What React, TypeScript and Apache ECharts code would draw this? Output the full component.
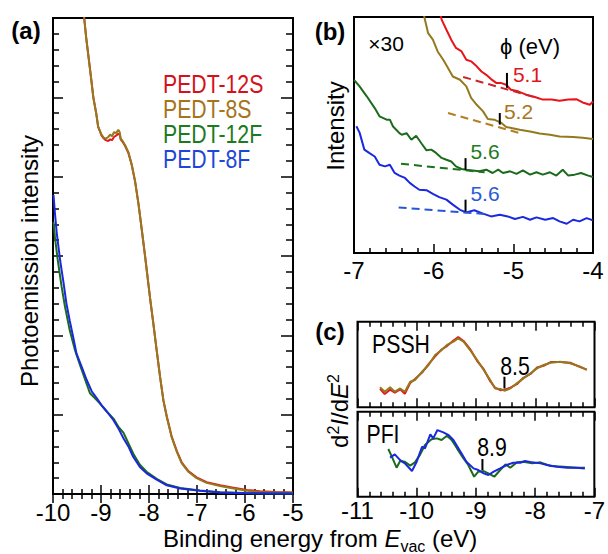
import React, { useEffect, useRef } from 'react';
import * as echarts from 'echarts';

const FONT = '"Liberation Sans", Arial, Helvetica, sans-serif';

// ---------- Panel (a): photoemission spectra ----------
const aE12S = [-9.39, -9.35, -9.31, -9.26, -9.21, -9.16, -9.10, -9.06, -8.99, -8.94, -8.90, -8.85, -8.81, -8.77, -8.73, -8.68, -8.64, -8.61, -8.59, -8.55, -8.50, -8.43, -8.36, -8.29, -8.22, -8.15, -8.08, -7.98, -7.91, -7.84, -7.77, -7.70, -7.63, -7.53, -7.42, -7.32, -7.18, -7.01, -6.80, -6.52, -6.24, -5.96, -5.69, -5.35, -5.0];
const aV12S = [6.3, 6.0, 5.76, 5.51, 5.26, 5.0, 4.80, 4.63, 4.52, 4.48, 4.46, 4.45, 4.47, 4.46, 4.50, 4.52, 4.54, 4.53, 4.47, 4.44, 4.39, 4.30, 4.15, 3.94, 3.66, 3.33, 2.99, 2.48, 2.15, 1.81, 1.48, 1.18, 0.98, 0.73, 0.54, 0.40, 0.29, 0.21, 0.15, 0.11, 0.08, 0.05, 0.035, 0.025, 0.02];
const aE8S = [-9.39, -9.35, -9.31, -9.26, -9.21, -9.16, -9.10, -9.06, -8.99, -8.94, -8.90, -8.85, -8.81, -8.77, -8.73, -8.68, -8.64, -8.61, -8.59, -8.55, -8.50, -8.43, -8.36, -8.29, -8.22, -8.15, -8.08, -7.98, -7.91, -7.84, -7.77, -7.70, -7.63, -7.53, -7.42, -7.32, -7.18, -7.01, -6.80, -6.52, -6.24, -5.96, -5.69, -5.35, -5.0];
const aV8S = [6.3, 6.0, 5.76, 5.51, 5.26, 5.0, 4.80, 4.63, 4.53, 4.49, 4.48, 4.50, 4.53, 4.51, 4.56, 4.55, 4.59, 4.56, 4.48, 4.45, 4.40, 4.31, 4.15, 3.94, 3.66, 3.33, 2.99, 2.48, 2.15, 1.81, 1.48, 1.18, 0.97, 0.72, 0.53, 0.39, 0.28, 0.20, 0.14, 0.10, 0.07, 0.04, 0.025, 0.02, 0.015];
const aE12F = [-9.99, -9.96, -9.91, -9.87, -9.82, -9.75, -9.65, -9.54, -9.44, -9.33, -9.23, -9.13, -9.02, -8.88, -8.74, -8.64, -8.53, -8.43, -8.33, -8.19, -8.05, -7.84, -7.63, -7.35, -6.94, -6.52, -6.0, -5.5, -5.0];
const aV12F = [3.43, 3.24, 2.99, 2.82, 2.61, 2.36, 2.06, 1.81, 1.63, 1.44, 1.27, 1.21, 1.14, 1.04, 0.95, 0.85, 0.77, 0.64, 0.51, 0.37, 0.28, 0.19, 0.12, 0.075, 0.045, 0.022, 0.012, 0.008, 0.005];
const aE8F = [-9.99, -9.96, -9.92, -9.85, -9.82, -9.78, -9.72, -9.65, -9.58, -9.51, -9.40, -9.30, -9.19, -9.09, -8.99, -8.88, -8.74, -8.64, -8.53, -8.43, -8.33, -8.19, -8.05, -7.84, -7.63, -7.35, -6.94, -6.52, -6.0, -5.5, -5.0];
const aV8F = [3.77, 3.54, 3.28, 2.94, 2.82, 2.66, 2.40, 2.18, 1.98, 1.77, 1.60, 1.44, 1.29, 1.21, 1.12, 1.04, 0.93, 0.83, 0.70, 0.60, 0.47, 0.34, 0.26, 0.18, 0.11, 0.07, 0.04, 0.02, 0.01, 0.007, 0.005];
const legendNames = ['PEDT-12S', 'PEDT-8S', 'PEDT-12F', 'PEDT-8F'];

// ---------- Panel (b): onset region x30 ----------
const bE12S = [-5.92, -5.90, -5.84, -5.78, -5.72, -5.65, -5.59, -5.53, -5.46, -5.40, -5.34, -5.28, -5.21, -5.15, -5.09, -5.03, -4.94, -4.84, -4.73, -4.63, -4.52, -4.42, -4.31, -4.21, -4.13, -4.04, -4.0];
const bV12S = [102, 98.9, 94.6, 90.4, 86.9, 85.4, 81.9, 81.2, 79.1, 76.9, 75.5, 73.7, 72, 72, 71.3, 69.2, 68.5, 67.1, 66.1, 65, 65, 64.5, 65, 65.2, 63.8, 62.8, 64.2];
const bE8S = [-6.13, -6.11, -6.07, -6.01, -5.95, -5.88, -5.82, -5.76, -5.67, -5.59, -5.53, -5.46, -5.38, -5.32, -5.24, -5.15, -5.09, -5.01, -4.92, -4.79, -4.67, -4.54, -4.42, -4.25, -4.13, -4.0];
const bV8S = [102, 98.9, 93.2, 90.4, 85.4, 81.9, 78.4, 74.8, 73.4, 70.6, 65.7, 62.8, 60, 56.8, 56.5, 55.1, 53.4, 52.9, 52.2, 51.5, 50.6, 50.1, 49.4, 49.2, 48.8, 48.3];
const bE12F = [-7.0, -6.93, -6.84, -6.74, -6.68, -6.59, -6.55, -6.51, -6.47, -6.43, -6.40, -6.34, -6.28, -6.22, -6.15, -6.09, -6.03, -5.97, -5.90, -5.84, -5.78, -5.72, -5.65, -5.59, -5.51, -5.43, -5.34, -5.26, -5.19, -5.13, -5.04, -4.96, -4.88, -4.79, -4.71, -4.63, -4.54, -4.46, -4.38, -4.31, -4.23, -4.15, -4.06, -4.0];
const bV12F = [73.4, 70.6, 66.4, 61.4, 57.9, 56.5, 56.5, 53.6, 52.2, 50.8, 50.1, 50.8, 48, 49.7, 46.3, 43.5, 43.8, 42.4, 40.3, 39.5, 38.8, 36.7, 35.6, 35.3, 35, 34.6, 35.3, 33.9, 35.3, 33.9, 34.6, 33.5, 35, 33.2, 34.2, 33.2, 34.2, 32.8, 35.3, 32.8, 33.2, 33.9, 32.8, 32.2];
const bE8F = [-6.97, -6.93, -6.87, -6.81, -6.74, -6.68, -6.61, -6.55, -6.49, -6.43, -6.36, -6.30, -6.24, -6.18, -6.09, -6.01, -5.93, -5.84, -5.76, -5.67, -5.59, -5.49, -5.38, -5.28, -5.17, -5.07, -4.98, -4.88, -4.79, -4.71, -4.60, -4.50, -4.42, -4.33, -4.25, -4.17, -4.08, -4.0];
const bV8F = [53.7, 51, 43.8, 42.4, 40.9, 37.4, 36.7, 37.4, 33.9, 32.8, 31.8, 29.7, 28.2, 26.8, 26.6, 25.1, 23.7, 22.6, 20.5, 18.3, 17.2, 18.1, 16.7, 15.5, 16.2, 15.5, 14.4, 15.3, 14.1, 15.1, 14.1, 14.8, 13.4, 12.4, 14.1, 13.4, 14.8, 13.8];
// extrapolated baselines (start/end) and onset markers
const bFit12S = [[-5.63, 74.6], [-4.68, 65.5]];
const bFit8S = [[-5.82, 59.3], [-4.92, 50.8]];
const bFit12F = [[-6.41, 37.8], [-5.36, 34.2]];
const bFit8F = [[-6.44, 19.3], [-5.35, 16.5]];
const phiE = [-5.08, -5.17, -5.6, -5.6];
const phiLow = [70, 54.4, 35.3, 17.6];
const phiHigh = [76.3, 59.3, 40.2, 22.6];
const phiLabels = ['5.1', '5.2', '5.6', '5.6'];

// ---------- Panel (c): second derivative ----------
const cE_PSSH = [-10.62, -10.54, -10.45, -10.37, -10.28, -10.20, -10.11, -10.03, -9.91, -9.80, -9.69, -9.58, -9.49, -9.38, -9.30, -9.21, -9.10, -8.98, -8.87, -8.76, -8.68, -8.59, -8.51, -8.42, -8.31, -8.20, -8.08, -7.97, -7.86, -7.74, -7.58, -7.41, -7.24, -7.13];
const cV_8S = [23.4, 18.2, 23.4, 18.2, 22, 18.2, 29.9, 31.9, 41.6, 49.4, 61.1, 66.9, 72.8, 76.7, 80.6, 76.7, 66.9, 55.2, 43.5, 31.9, 22.1, 21.4, 19.4, 22.1, 28, 33.8, 39.7, 45.5, 49.4, 52.1, 53.3, 51.4, 47.5, 43.6];
const cV_12S = [21.5, 15.5, 20.5, 17.0, 21.0, 15.8, 28.5, 33.0, 40.5, 50.5, 59.5, 67.5, 71.5, 78.0, 82.0, 77.5, 68.0, 54.0, 44.5, 30.5, 23.0, 20.0, 20.5, 23.0, 27.0, 34.5, 39.0, 46.5, 48.5, 52.8, 53.0, 52.0, 47.0, 44.0];
const cE_12F = [-10.48, -10.42, -10.34, -10.28, -10.20, -10.11, -10.03, -9.94, -9.86, -9.75, -9.66, -9.58, -9.49, -9.41, -9.32, -9.21, -9.13, -9.03, -8.96, -8.87, -8.79, -8.69, -8.59, -8.50, -8.42, -8.31, -8.20, -8.05, -7.91, -7.74, -7.52, -7.30, -7.16];
const cV_12F = [56.1, 47.1, 34.1, 42, 41.2, 36.5, 40.4, 49.8, 60.8, 67.5, 68.6, 66.7, 71.8, 66.7, 56.9, 45.1, 37.3, 23.5, 29.4, 30.2, 27.5, 23.5, 31.4, 38, 34.1, 40.4, 41.2, 39.2, 40.4, 36.1, 35.3, 34.1, 34.1];
const cE_8F = [-10.45, -10.37, -10.28, -10.20, -10.08, -10.00, -9.91, -9.86, -9.77, -9.72, -9.65, -9.55, -9.46, -9.38, -9.26, -9.16, -9.04, -8.96, -8.87, -8.79, -8.70, -8.59, -8.48, -8.37, -8.25, -8.17, -8.05, -7.91, -7.80, -7.63, -7.46, -7.30, -7.16];
const cV_8F = [45.9, 49.8, 43.1, 39.2, 30.2, 41.2, 58.8, 56.9, 73.3, 68.6, 78.4, 75.7, 72.5, 66.7, 52.9, 41.2, 33.3, 31.4, 27.5, 25.5, 29.4, 33.3, 37.3, 40, 40, 42, 40.4, 39.2, 37.3, 35.3, 34.1, 34.1, 33.3];
const cMarkE = [-8.52, -8.89];
const cMarkLow = [22.1, 31.3];
const cMarkHigh = [35.7, 44.4];

const C_RED = '#e8141a';
const C_BROWN = '#937a1e';
const C_GREEN = '#1c6b1c';
const C_BLUE = '#1a28e0';

const zip = (xs: number[], ys: number[]) => xs.map((x, i) => [x, ys[i]]);

function line(data: number[][], color: string, xi: number, yi: number, extra: any = {}) {
  return {
    type: 'line', data, xAxisIndex: xi, yAxisIndex: yi, symbol: 'none', showSymbol: false,
    lineStyle: { color, width: 2, ...(extra.lineStyle || {}) }, itemStyle: { color },
    z: extra.z ?? 2, silent: true, clip: true,
  };
}

function xAx(grid: number, min: number, max: number, pos: string, labels: boolean, margin = 7, lh = 22) {
  return {
    type: 'value', gridIndex: grid, min, max, interval: 1, position: pos,
    axisLine: { show: false },
    axisTick: { show: true, inside: true, length: 9, lineStyle: { color: '#000', width: 1.5 } },
    minorTick: { show: true, splitNumber: 5, length: 5, lineStyle: { color: '#000', width: 1.5 } },
    splitLine: { show: false }, minorSplitLine: { show: false },
    axisLabel: { show: labels, fontSize: 24, lineHeight: lh, color: '#000', fontFamily: FONT, margin },
  };
}

function yHidden(grid: number) {
  return {
    type: 'value', gridIndex: grid, min: 0, max: 100,
    axisLine: { show: false }, axisTick: { show: false }, axisLabel: { show: false },
    splitLine: { show: false },
  };
}

function yTicks(grid: number, pos: string, len: number, mlen: number) {
  return {
    type: 'value', gridIndex: grid, min: 0, max: 6, interval: 1, position: pos,
    axisLine: { show: false },
    axisTick: { show: true, inside: true, length: len, lineStyle: { color: '#000', width: 1.5 } },
    minorTick: { show: true, splitNumber: 5, length: mlen, lineStyle: { color: '#000', width: 1.5 } },
    splitLine: { show: false }, axisLabel: { show: false },
  };
}

function txt(text: string, x: number, y: number, size: number, color = '#000', extra: any = {}) {
  return {
    type: 'text', x, y, z: 100, scaleX: extra.scaleX ?? 1, rotation: extra.rotation ?? 0,
    style: {
      text, fill: color, fontSize: size, fontFamily: FONT, fontWeight: extra.bold ? 'bold' : 'normal',
      align: extra.align ?? 'center', verticalAlign: 'middle', rich: extra.rich,
    },
  };
}

export default function App() {
  const ref = useRef<HTMLDivElement>(null);
  useEffect(() => {
    if (!ref.current) return;
    const chart = echarts.init(ref.current, undefined, { renderer: 'svg' });
    const gridBox = { show: true, borderColor: '#000', borderWidth: 2, backgroundColor: 'transparent' };
    const series: any[] = [
      line(zip(aE12S, aV12S), C_RED, 0, 0),
      line(zip(aE8S, aV8S), C_BROWN, 0, 0),
      line(zip(aE12F, aV12F), C_GREEN, 0, 0),
      line(zip(aE8F, aV8F), C_BLUE, 0, 0),
      line(zip(bE12S, bV12S), C_RED, 2, 2),
      line(zip(bE8S, bV8S), C_BROWN, 2, 2),
      line(zip(bE12F, bV12F), C_GREEN, 2, 2),
      line(zip(bE8F, bV8F), C_BLUE, 2, 2),
      line(bFit12S, '#c8262c', 2, 2, { z: 4, lineStyle: { type: [8, 5] } }),
      line(bFit8S, '#b57e20', 2, 2, { z: 4, lineStyle: { type: [8, 5] } }),
      line(bFit12F, '#1f6f1f', 2, 2, { z: 4, lineStyle: { type: [8, 5] } }),
      line(bFit8F, '#2a55d8', 2, 2, { z: 4, lineStyle: { type: [8, 5] } }),
      ...phiE.map((e, i) => line([[e, phiLow[i]], [e, phiHigh[i]]], '#000', 2, 2, { z: 5 })),
      line(zip(cE_PSSH, cV_12S), C_RED, 3, 3),
      line(zip(cE_PSSH, cV_8S), C_BROWN, 3, 3),
      line(zip(cE_12F, cV_12F), C_GREEN, 5, 4),
      line(zip(cE_8F, cV_8F), C_BLUE, 5, 4),
      line([[cMarkE[0], cMarkLow[0]], [cMarkE[0], cMarkHigh[0]]], '#000', 3, 3, { z: 5 }),
      line([[cMarkE[1], cMarkLow[1]], [cMarkE[1], cMarkHigh[1]]], '#000', 5, 4, { z: 5 }),
    ];
    const legendColors = ['#d4111b', '#a6741a', '#1e7a1e', '#1d47d6'];
    const phiColors = ['#e0141e', '#a8761c', '#1e7a1e', '#2a5ad8'];
    const phiPos = [[527.5, 74], [518.5, 111.5], [485, 151], [485, 193]];
    const option: any = {
      animation: false,
      backgroundColor: '#fff',
      grid: [
        { left: 53, top: 18, width: 240, height: 476, ...gridBox },
        { left: 354, top: 17, width: 239, height: 236, ...gridBox },
        { left: 357.5, top: 321.7, width: 237, height: 85.6, ...gridBox },
        { left: 357.5, top: 411.7, width: 237, height: 85, ...gridBox },
      ],
      xAxis: [
        xAx(0, -10, -5, 'bottom', true, 7),
        xAx(0, -10, -5, 'top', false),
        xAx(1, -7, -4, 'bottom', true, 6),
        xAx(2, -11, -7, 'bottom', false),
        xAx(2, -11, -7, 'top', false),
        xAx(3, -11, -7, 'bottom', true, 4, 20),
        xAx(3, -11, -7, 'top', false),
      ],
      yAxis: [
        yTicks(0, 'left', 10, 6),
        yTicks(0, 'right', 12, 7),
        yHidden(1),
        yHidden(2),
        yHidden(3),
      ],
      series,
      graphic: [
        txt('(a)', 26, 30, 24, '#000', { bold: true }),
        txt('(b)', 330, 31, 24, '#000', { bold: true }),
        txt('(c)', 330, 331, 24, '#000', { bold: true }),
        ...legendNames.map((n, i) => txt(n, 163, [84, 109, 134, 159][i], 25, legendColors[i], { align: 'left', scaleX: 0.85 })),
        txt('Photoemission intensity', 29, 261, 24, '#000', { rotation: Math.PI / 2 }),
        txt('Intensity', 335, 126, 24, '#000', { rotation: Math.PI / 2 }),
        {
          type: 'text', x: 163, y: 526, z: 100,
          style: {
            text: '{n|Binding energy from }{i|E}{s|vac}{n| (eV)}',
            fill: '#000', align: 'left', verticalAlign: 'top',
            rich: {
              n: { fontSize: 24, fontFamily: FONT, lineHeight: 24, verticalAlign: 'top', fill: '#000' },
              i: { fontSize: 24, fontFamily: FONT, fontStyle: 'italic', lineHeight: 24, verticalAlign: 'top', fill: '#000' },
              s: { fontSize: 16, fontFamily: FONT, lineHeight: 16, padding: [12, 0, 0, 0], verticalAlign: 'top', fill: '#000' },
            },
          },
        },
        {
          type: 'text', x: 339, y: 411, z: 100, rotation: Math.PI / 2,
          style: {
            text: '{n|d}{p|2}{i|I}{n|/d}{i|E}{p|2}',
            fill: '#000', align: 'center', verticalAlign: 'middle',
            rich: {
              n: { fontSize: 24, fontFamily: FONT, lineHeight: 28, verticalAlign: 'middle', fill: '#000' },
              i: { fontSize: 24, fontFamily: FONT, fontStyle: 'italic', lineHeight: 28, verticalAlign: 'middle', fill: '#000' },
              p: { fontSize: 16, fontFamily: FONT, lineHeight: 16, verticalAlign: 'top', fill: '#000' },
            },
          },
        },
        txt('×30', 386, 43, 21),
        txt('ϕ (eV)', 530, 46, 22),
        ...phiLabels.map((t, i) => txt(t, phiPos[i][0], phiPos[i][1], 21, phiColors[i])),
        txt('PSSH', 401, 344, 25, '#000', { scaleX: 0.85 }),
        txt('PFI', 383, 434, 25, '#000', { scaleX: 0.85 }),
        txt('8.5', 515, 366, 25, '#000', { scaleX: 0.85 }),
        txt('8.9', 492, 447.5, 25, '#000', { scaleX: 0.85 }),
      ],
    };
    chart.setOption(option);
    return () => chart.dispose();
  }, []);
  return <div ref={ref} style={{ position: 'absolute', left: 0, top: 0, width: 608, height: 554, background: '#fff' }} />;
}
